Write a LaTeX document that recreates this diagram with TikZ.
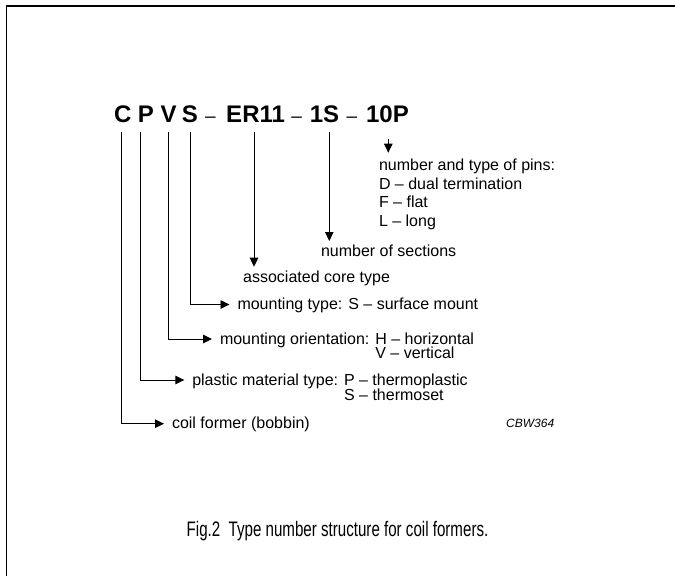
\documentclass[tikz,border=0pt]{standalone}
\usepackage{fontspec}
\setmainfont{Liberation Sans}
\usepackage{graphicx}
\usetikzlibrary{arrows.meta}
\begin{document}
\begin{tikzpicture}[x=1pt,y=-1pt,
  ttl/.style={font=\fontsize{24}{28}\selectfont\bfseries, inner sep=0pt, outer sep=0pt, text depth=0pt, outer ysep=9pt, anchor=base},
  dsh/.style={font=\fontsize{19}{22}\selectfont, inner sep=0pt, outer sep=0pt, anchor=base},
  lbl/.style={font=\fontsize{16}{19}\selectfont, inner sep=0pt, outer sep=0pt, text height=10pt, text depth=0pt, anchor=base west},
  conn/.style={line width=0.9pt, -{Triangle[length=9pt,width=8.5pt]}},
  frame/.style={line width=1.8pt}]
\useasboundingbox (0,0) rectangle (675,576);
\draw[frame] (6.5,576) -- (6.5,6) -- (675,6);
% type number
\node[ttl] (tC) at (122.9,122.8) {C};
\node[ttl] (tP) at (145.8,122.8) {P};
\node[ttl] (tV) at (168.7,122.8) {V};
\node[ttl] (tS) at (190,122.8) {S};
\node[dsh] (d1) at (210.5,122.3) {–};
\node[ttl] (tER) at (255.6,122.8) {ER11};
\node[dsh] (d2) at (296.7,122.3) {–};
\node[ttl] (t1S) at (324.5,122.8) {1S};
\node[dsh] (d3) at (352,122.3) {–};
\node[ttl] (t10P) at (387.5,122.8) {10P};
% labels
\node[lbl, outer ysep=7.5pt] (pins1) at (379,170.2) {number and type of pins:};
\node[lbl] (pins2) at ([yshift=-18.8pt]pins1.base west) {D – dual termination};
\node[lbl] (pins3) at ([yshift=-18.8pt]pins2.base west) {F – flat};
\node[lbl] (pins4) at ([yshift=-18.8pt]pins3.base west) {L – long};
\node[lbl, outer ysep=5pt] (sec) at (321,256) {number of sections};
\node[lbl, outer ysep=6pt] (core) at (243.2,282.7) {associated core type};
\node[lbl] (lS) at (237.5,309.5) {mounting type: S – surface mount};
\node[lbl] (lV) at (220,344) {mounting orientation: H – horizontal};
\node[lbl] (lV2) at ([yshift=-14.5pt]lV.base west) {\phantom{mounting orientation: }V – vertical};
\node[lbl] (lP) at (192.3,385) {plastic material type: P – thermoplastic};
\node[lbl] (lP2) at ([yshift=-15pt]lP.base west) {\phantom{plastic material type: }S – thermoset};
\node[lbl] (lC) at (172,428.7) {coil former (bobbin)};
\node[font=\fontsize{12}{14}\selectfont\itshape, inner sep=0pt, anchor=base west] (code) at (506,427.7) {CBW364};
\node[font=\fontsize{21}{25}\selectfont, inner sep=0pt, anchor=base] (cap) at (337.5,536.7) {\scalebox{0.72}[1]{Fig.2\ \ Type number structure for coil formers.}};
% connectors
\draw[conn] ([xshift=-1.9pt]tC.south) |- ([xshift=-8pt]lC.west);
\draw[conn] ([xshift=-5.1pt]tP.south) |- ([xshift=-8pt]lP.west);
\draw[conn] ([xshift=-0.4pt]tV.south) |- ([xshift=-8pt]lV.west);
\draw[conn] ([xshift=0.7pt]tS.south) |- ([xshift=-8pt]lS.west);
\draw[conn] ([xshift=-1.6pt]tER.south) -- ([xshift=-1.6pt]tER.south |- core.north);
\draw[conn] ([xshift=4.8pt]t1S.south) -- ([xshift=4.8pt]t1S.south |- sec.north);
\draw[conn] ([xshift=0.8pt,yshift=-7pt]t10P.south) -- ([xshift=0.8pt]t10P.south |- pins1.north);
\end{tikzpicture}
\end{document}
